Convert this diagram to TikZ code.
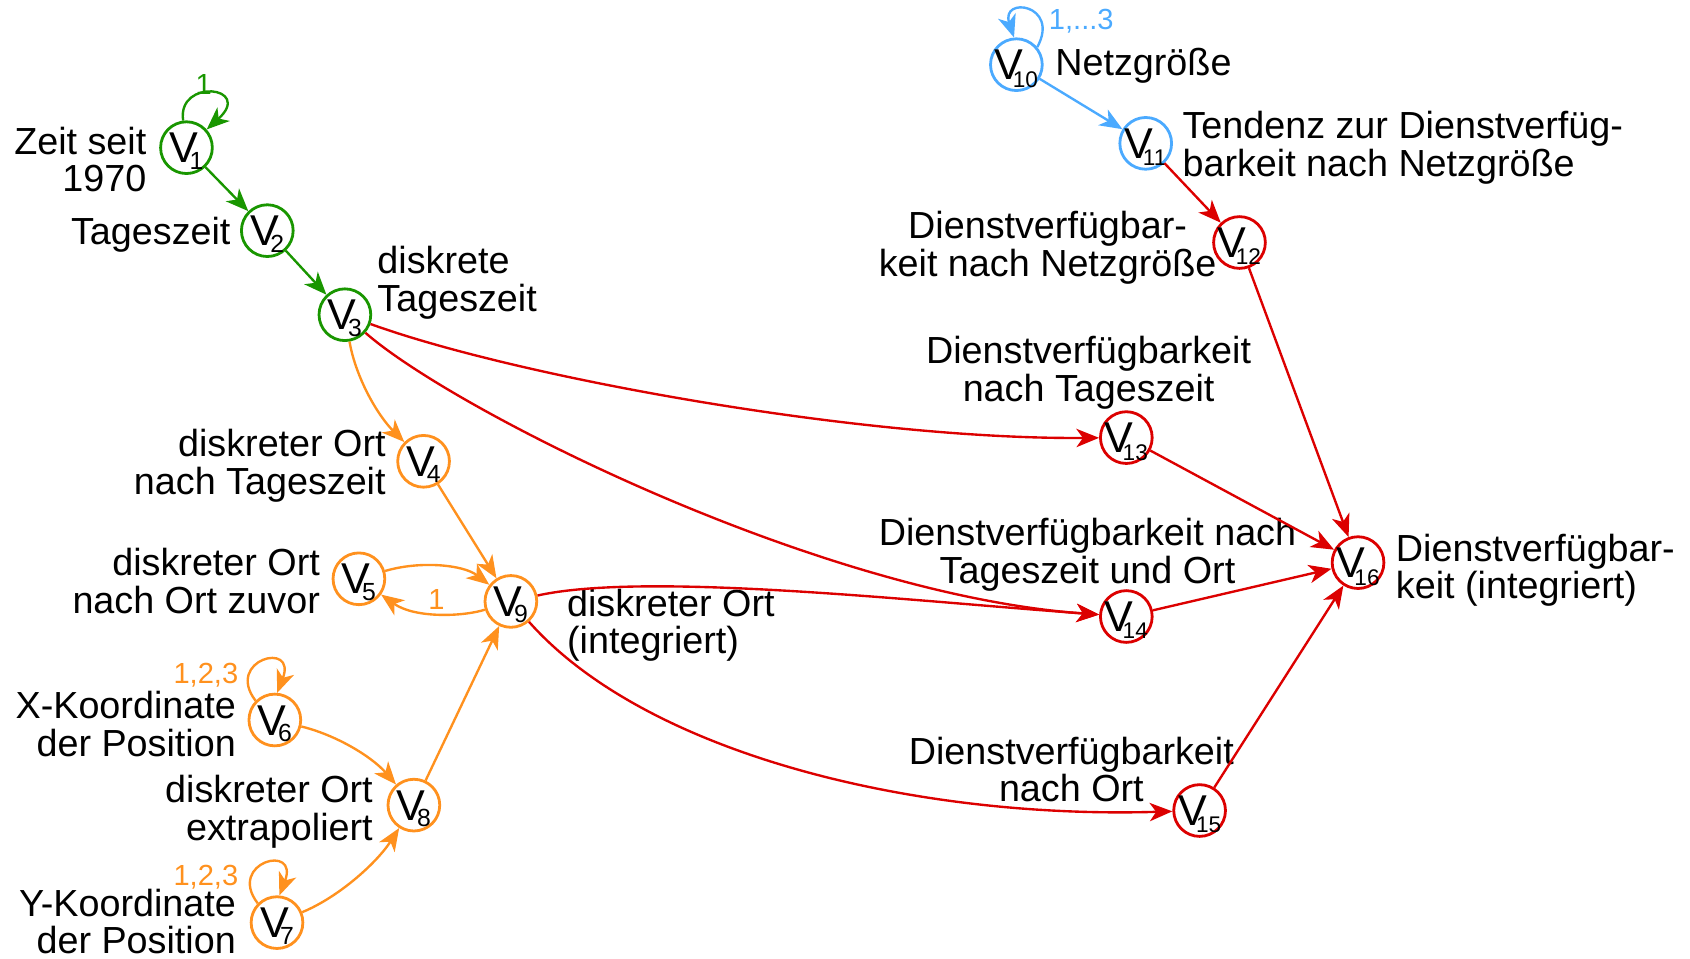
\documentclass[tikz,border=0pt]{standalone}
\usepackage{fontspec}
\setmainfont{Liberation Sans}
\usetikzlibrary{arrows.meta}

\definecolor{cgreen}{RGB}{25,150,0}
\definecolor{corange}{RGB}{255,145,30}
\definecolor{cblue}{RGB}{75,170,255}
\definecolor{cred}{RGB}{220,0,0}

% variable symbol V with its index, centred in a fixed-size circle
\newcommand{\vvar}[1]{\smash{\raisebox{-14pt}{\makebox[0pt]{\fontsize{40}{40}\selectfont V\kern-0.2em\raisebox{-0.15em}{\fontsize{23}{23}\selectfont #1}}}}}
\newcommand{\vvarr}[1]{\smash{\raisebox{-14pt}{\makebox[0pt]{\fontsize{40}{40}\selectfont V\kern-0.25em\raisebox{-0.17em}{\fontsize{21}{21}\selectfont #1}}}}}

\begin{document}
\begin{tikzpicture}[x=1pt,y=-1pt,
  var/.style={circle, draw=#1, line width=2.6pt, minimum size=48pt, inner sep=0pt, text=black},
  lbl/.style={font=\fontsize{35}{35}\selectfont, inner sep=0pt},
  loopnum/.style={font=\fontsize{27}{27}\selectfont, inner sep=0pt},
  arr/.style={line width=2.2pt, -{Stealth[length=21pt,width=17pt,inset=6pt]}}
]
\useasboundingbox (0,0) rectangle (1568,889);

% ---- variables ----
\node[var=cgreen]  (v1)  at (173,137) {\vvar{1}};
\node[var=cgreen]  (v2)  at (248,214) {\vvar{2}};
\node[var=cgreen]  (v3)  at (320,292) {\vvar{3}};
\node[var=corange] (v4)  at (393,428) {\vvar{4}};
\node[var=corange] (v5)  at (333,537) {\vvar{5}};
\node[var=corange] (v6)  at (255,668) {\vvar{6}};
\node[var=corange] (v7)  at (257,856) {\vvar{7}};
\node[var=corange] (v8)  at (384,747) {\vvar{8}};
\node[var=corange] (v9)  at (474,558) {\vvar{9}};
\node[var=cblue]   (v10) at (943,60)  {\vvarr{10}};
\node[var=cblue]   (v11) at (1063,133) {\vvarr{11}};
\node[var=cred]    (v12) at (1150,225) {\vvarr{12}};
\node[var=cred]    (v13) at (1045,406) {\vvarr{13}};
\node[var=cred]    (v14) at (1045,572) {\vvarr{14}};
\node[var=cred]    (v15) at (1113,752) {\vvarr{15}};
\node[var=cred]    (v16) at (1260,522) {\vvarr{16}};

% ---- descriptions ----
\node[lbl, anchor=east, align=right]  (t1)  at (136,148) {Zeit seit\\1970};
\node[lbl, anchor=east]               (t2)  at (214,218) {Tageszeit};
\node[lbl, anchor=west, align=left]   (t3)  at (350,262) {diskrete\\Tageszeit};
\node[lbl, anchor=east, align=right]  (t4)  at (358,432) {diskreter Ort\\nach Tageszeit};
\node[lbl, anchor=east, align=right]  (t5)  at (297,539) {diskreter Ort\\nach Ort zuvor};
\node[lbl, anchor=east, align=right]  (t6)  at (219,672) {X-Koordinate\\der Position};
\node[lbl, anchor=east, align=right]  (t7)  at (219,855) {Y-Koordinate\\der Position};
\node[lbl, anchor=east, align=right]  (t8)  at (346,753) {diskreter Ort\\extrapoliert};
\node[lbl, anchor=west, align=left]   (t9)  at (526,580) {diskreter Ort\\(integriert)};
\node[lbl, anchor=west]               (t10) at (979,61)  {Netzgröße};
\node[lbl, anchor=west, align=left]   (t11) at (1097,137) {Tendenz zur Dienstverfüg-\\barkeit nach Netzgröße};
\node[lbl, align=center]              (t12) at (972,230) {Dienstverfügbar-\\keit nach Netzgröße};
\node[lbl, align=center]              (t13) at (1010,346) {Dienstverfügbarkeit\\nach Tageszeit};
\node[lbl, align=center]              (t14) at (1009,515) {Dienstverfügbarkeit nach\\Tageszeit und Ort};
\node[lbl, align=center]              (t15) at (994,714) {Dienstverfügbarkeit\\nach Ort};
\node[lbl, anchor=west, align=left]   (t16) at (1295,529) {Dienstverfügbar-\\keit (integriert)};

% ---- time-slice loops ----
\draw[arr, cgreen] (v1.97) .. controls (164,72) and (236,80) .. (v1.42);
\node[loopnum, text=cgreen] (n1) at (189,78) {1};

\draw[arr, cblue] (v10.40) .. controls (984,4) and (928,-4) .. (v10.95);
\node[loopnum, text=cblue, anchor=west] (n10) at (973,20) {1,...3};

\draw[arr, corange] (v6.135) .. controls (208,612) and (276,594) .. (v6.85);
\node[loopnum, text=corange] (n6) at (191,626) {1,2,3};

\draw[arr, corange] (v7.135) .. controls (210,800) and (278,782) .. (v7.85);
\node[loopnum, text=corange] (n7) at (191,814) {1,2,3};

% ---- green chain ----
\draw[arr, cgreen] (v1) -- (v2);
\draw[arr, cgreen] (v2) -- (v3);

% ---- orange part ----
\draw[arr, corange] (v3) .. controls (330,350) and (350,385) .. (v4);
\draw[arr, corange] (v4) -- (v9);
\draw[arr, corange] (v5) .. controls (390,520) and (430,524) .. (v9);
\draw[arr, corange] (v9) .. controls (430,572) and (385,574) .. (v5);
\node[loopnum, text=corange] (n5) at (405,556) {1};
\draw[arr, corange] (v6) .. controls (312,682) and (345,702) .. (v8);
\draw[arr, corange] (v7) .. controls (315,832) and (350,800) .. (v8);
\draw[arr, corange] (v8) -- (v9);

% ---- blue part ----
\draw[arr, cblue] (v10) -- (v11);

% ---- red part ----
\draw[arr, cred] (v11) -- (v12);
\draw[arr, cred] (v12) -- (v16);
\draw[arr, cred] (v3) .. controls (480,350) and (800,408) .. (v13);
\draw[arr, cred] (v3) .. controls (420,380) and (760,552) .. (v14);
\draw[arr, cred] (v9) .. controls (600,530) and (850,558) .. (v14);
\draw[arr, cred] (v9) .. controls (600,700) and (850,760) .. (v15);
\draw[arr, cred] (v13) -- (v16);
\draw[arr, cred] (v14) -- (v16);
\draw[arr, cred] (v15) -- (v16);
\end{tikzpicture}
\end{document}
